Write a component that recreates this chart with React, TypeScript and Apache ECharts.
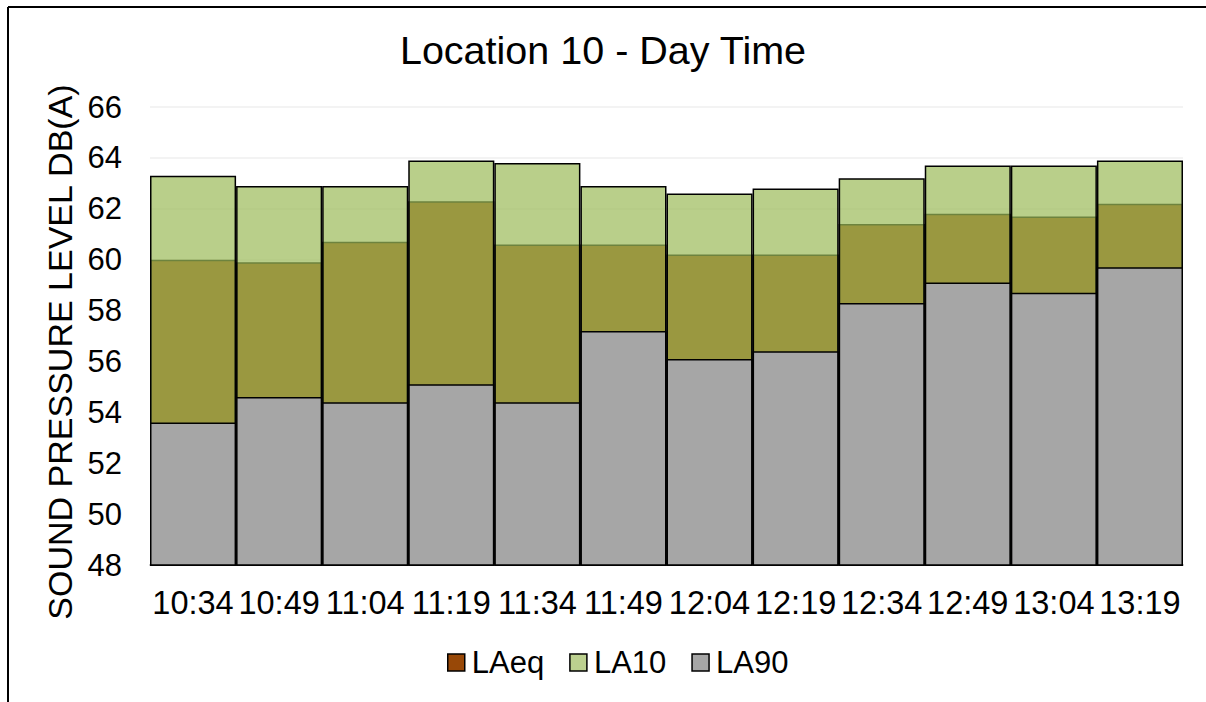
import React, { useEffect, useRef } from "react";
import * as echarts from "echarts";

const categories = ["10:34", "10:49", "11:04", "11:19", "11:34", "11:49", "12:04", "12:19", "12:34", "12:49", "13:04", "13:19"];
const laeq = [60.0, 59.9, 60.7, 62.3, 60.6, 60.6, 60.2, 60.2, 61.4, 61.8, 61.7, 62.2];
const la10 = [63.3, 62.9, 62.9, 63.9, 63.8, 62.9, 62.6, 62.8, 63.2, 63.7, 63.7, 63.9];
const la90 = [53.6, 54.6, 54.4, 55.1, 54.4, 57.2, 56.1, 56.4, 58.3, 59.1, 58.7, 59.7];

const FONT = "'Liberation Sans', Arial, sans-serif";

export default function App() {
  const ref = useRef<HTMLDivElement>(null);
  useEffect(() => {
    const chart = echarts.init(ref.current!, null, { renderer: "svg" });
    const border = { borderColor: "#000", borderWidth: 1.5 };
    chart.setOption({
      animation: false,
      backgroundColor: "#fff",
      textStyle: { fontFamily: FONT, color: "#000" },
      title: {
        text: "Location 10 - Day Time",
        left: "center",
        top: 25,
        textStyle: { fontFamily: FONT, fontSize: 39.5, fontWeight: "normal", color: "#000" },
      },
      legend: {
        bottom: 19,
        left: 442,
        itemWidth: 17,
        itemHeight: 17,
        itemGap: 25,
        icon: "rect",
        textStyle: { fontFamily: FONT, fontSize: 31, color: "#000", padding: [0, 0, 0, 2] },
        data: [
          { name: "LAeq", itemStyle: { color: "#984807", borderColor: "#000", borderWidth: 1.5 } },
          { name: "LA10", itemStyle: { color: "#BCD08F", borderColor: "#000", borderWidth: 1.5 } },
          { name: "LA90", itemStyle: { color: "#A6A6A6", borderColor: "#000", borderWidth: 1.5 } },
        ],
      },
      grid: { left: 150, right: 23, top: 107, bottom: 137, containLabel: false },
      xAxis: {
        type: "category",
        data: categories,
        axisTick: { show: false },
        axisLine: { lineStyle: { color: "#BFBFBF", width: 2 } },
        axisLabel: { fontFamily: FONT, fontSize: 32.5, color: "#000", margin: 21, interval: 0 },
      },
      yAxis: {
        type: "value",
        min: 48,
        max: 66,
        interval: 2,
        name: "SOUND PRESSURE LEVEL DB(A)",
        nameLocation: "middle",
        nameGap: 70,
        nameTextStyle: { fontFamily: FONT, fontSize: 34, color: "#000", padding: [0, 32, 0, 0] },
        axisLine: { show: false },
        axisTick: { show: false },
        axisLabel: { fontFamily: FONT, fontSize: 31, color: "#000", margin: 28 },
        splitLine: { lineStyle: { color: "#EFEFEF", width: 1.5 } },
      },
      series: [
        {
          name: "LAeq",
          type: "bar",
          data: laeq,
          barGap: "-100%",
          barCategoryGap: 0,
          itemStyle: { color: "#984807", ...border },
        },
        {
          name: "LA10",
          type: "bar",
          data: la10,
          barGap: "-100%",
          barCategoryGap: 0,
          itemStyle: { color: "rgba(155,187,89,0.7)", ...border },
        },
        {
          name: "LA90",
          type: "bar",
          data: la90,
          barGap: "-100%",
          barCategoryGap: 0,
          itemStyle: { color: "#A6A6A6", ...border },
        },
      ],
      graphic: [
        { type: "line", shape: { x1: 8, y1: 7, x2: 1206, y2: 7 }, style: { stroke: "#000", lineWidth: 2 } },
        { type: "line", shape: { x1: 8, y1: 7, x2: 8, y2: 702 }, style: { stroke: "#000", lineWidth: 2 } },
      ],
    });
    return () => chart.dispose();
  }, []);
  return <div ref={ref} style={{ position: "fixed", left: 0, top: 0, width: 1206, height: 702 }} />;
}
